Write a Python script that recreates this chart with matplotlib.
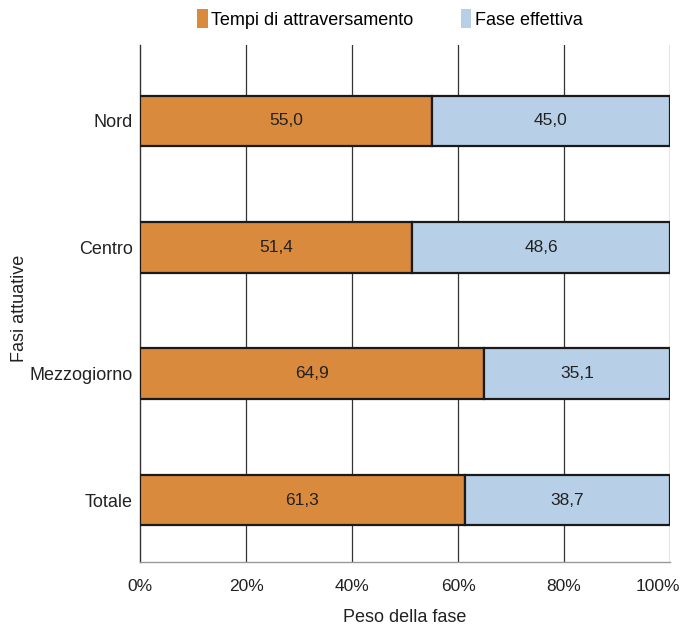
import numpy as np
import matplotlib.pyplot as plt
from matplotlib.patches import Patch
from matplotlib.transforms import ScaledTranslation

plt.rcParams['font.family'] = ['Liberation Sans', 'DejaVu Sans']

regioni = ['Nord', 'Centro', 'Mezzogiorno', 'Totale']
tempi = [55.0, 51.4, 64.9, 61.3]
fase = [45.0, 48.6, 35.1, 38.7]
xticks = [0, 20, 40, 60, 80, 100]

c_tempi = '#d98a3c'
c_fase = '#b7d0e8'

fig = plt.figure(figsize=(6.84, 6.32), dpi=100)
ax = fig.add_axes([0.2047, 0.1108, 0.775, 0.818])

y = np.arange(len(regioni))[::-1]
h = 0.4
ax.barh(y, tempi, height=h, color=c_tempi, edgecolor='#1a1a1a', linewidth=1.6, zorder=3)
ax.barh(y, fase, left=tempi, height=h, color=c_fase, edgecolor='#1a1a1a', linewidth=1.6, zorder=3)

# valori al centro di ogni segmento
for yi, t, f in zip(y, tempi, fase):
    ax.text(t / 2, yi, f'{t:.1f}'.replace('.', ','), ha='center', va='center',
            fontsize=12.5, color='#222222', zorder=4)
    ax.text(t + f / 2, yi, f'{f:.1f}'.replace('.', ','), ha='center', va='center',
            fontsize=12.5, color='#222222', zorder=4)

ax.set_xlim(0, 100)
ax.set_ylim(-0.49, 3.6)
ax.set_xticks(xticks)
ax.set_xticklabels([f'{v}%' for v in xticks], fontsize=12.5, color='#222222')
ax.set_yticks(y)
ax.set_yticklabels(regioni, fontsize=13, color='#222222')
ax.tick_params(axis='x', length=0, pad=12)
ax.tick_params(axis='y', length=0, pad=5)

# l'etichetta 100% rientra un poco nel bordo
last = ax.get_xticklabels()[-1]
last.set_transform(last.get_transform() + ScaledTranslation(-9 / 72, 0, fig.dpi_scale_trans))

for v in xticks[1:]:
    ax.axvline(v, color='#333333', linewidth=0.9, zorder=1)

for s in ['top', 'right']:
    ax.spines[s].set_visible(False)
ax.spines['left'].set_color('#333333')
ax.spines['left'].set_linewidth(1.0)
ax.spines['bottom'].set_color('#999999')
ax.spines['bottom'].set_linewidth(1.0)

ax.set_xlabel('Peso della fase', fontsize=13, color='#222222', labelpad=11)
ax.set_ylabel('Fasi attuative', fontsize=13, color='#222222')
ax.yaxis.set_label_coords(-0.212, 0.49)

handles = [Patch(facecolor=c_tempi, edgecolor='none'),
           Patch(facecolor=c_fase, edgecolor='none')]
fig.legend(handles, ['Tempi di attraversamento', 'Fase effettiva'],
           loc='center', bbox_to_anchor=(0.57, 0.97), ncol=2, frameon=False,
           fontsize=13, handlelength=0.6, handleheight=1.2, handletextpad=0.2,
           columnspacing=2.6)

fig.savefig('out.png', dpi=100)
